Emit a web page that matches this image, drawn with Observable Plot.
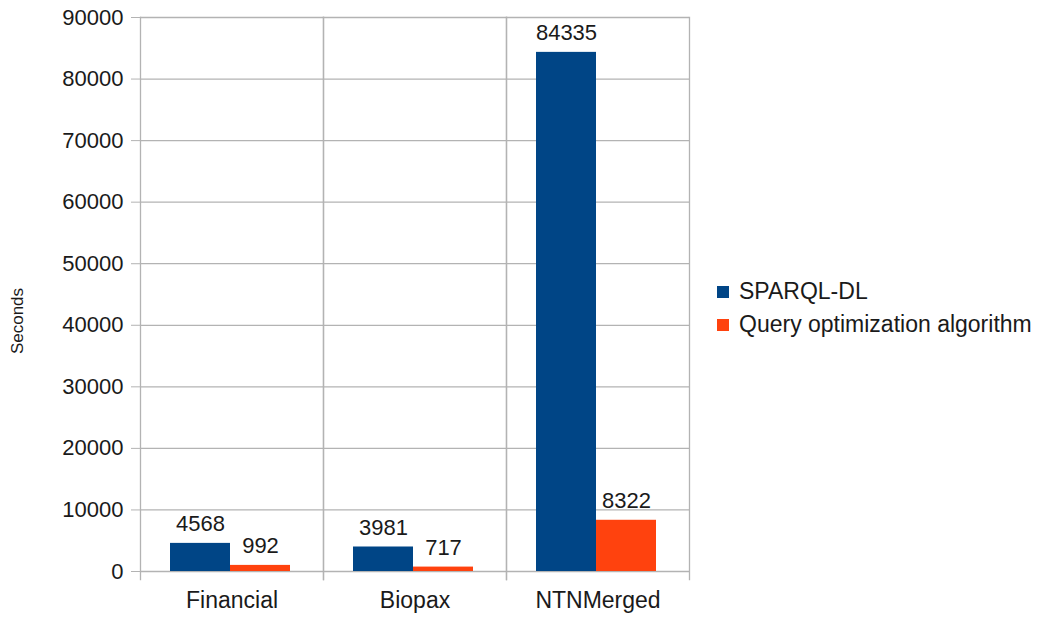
<!DOCTYPE html>
<html>
<head>
<meta charset="utf-8">
<script src="https://cdn.jsdelivr.net/npm/d3@7"></script>
<script src="https://cdn.jsdelivr.net/npm/@observablehq/plot@0.6"></script>
<style>
  html, body { margin: 0; padding: 0; background: #fff; }
  #wrap { position: relative; width: 1041px; height: 619px; font-family: "Liberation Sans", Arial, sans-serif; color: #1a1a1a; }
  #legend { position: absolute; left: 717px; top: 275px; font-size: 23px; line-height: 33px; }
  #legend .item { display: flex; align-items: center; white-space: nowrap; }
  #legend .sw { width: 12px; height: 12px; margin-right: 10px; }
  #ylab { position: absolute; left: 18px; top: 321px; transform: translate(-50%, -50%) rotate(-90deg); font-size: 17px; white-space: nowrap; }
</style>
</head>
<body>
<div id="wrap"></div>
<script>
const categories = ["Financial", "Biopax", "NTNMerged"];
const series = ["SPARQL-DL", "Query optimization algorithm"];
const sparqlValues = [4568, 3981, 84335];
const queryValues = [992, 717, 8322];
const yTicks = [0, 10000, 20000, 30000, 40000, 50000, 60000, 70000, 80000, 90000];
const colors = ["#004586", "#ff420e"];

const rows = [];
categories.forEach((c, i) => {
  rows.push({category: c, series: series[0], value: sparqlValues[i]});
  rows.push({category: c, series: series[1], value: queryValues[i]});
});

const grid = "#b3b3b3";
const chart = Plot.plot({
  width: 1041,
  height: 619,
  marginLeft: 140,
  marginRight: 352,
  marginTop: 17,
  marginBottom: 48,
  style: {fontFamily: "'Liberation Sans', Arial, sans-serif", fontSize: "22px", color: "#1a1a1a", background: "transparent"},
  fx: {domain: categories, padding: 0, label: null, axis: null},
  x: {domain: series, paddingInner: 0, paddingOuter: 0.51, align: 0.48, axis: null},
  y: {domain: [0, 90000], label: null},
  color: {domain: series, range: colors},
  marks: [
    Plot.gridY(yTicks, {stroke: grid, strokeOpacity: 1, strokeWidth: 1.3}),
    Plot.frame({anchor: "left", insetBottom: -8, stroke: grid, strokeWidth: 1.3}),
    Plot.frame({anchor: "right", insetBottom: -8, stroke: grid, strokeWidth: 1.3}),
    Plot.axisY({ticks: yTicks, tickSize: 9, tickPadding: 8, stroke: grid, label: null, tickFormat: d => String(d), fontSize: 22}),
    Plot.axisFx({anchor: "bottom", tickSize: 0, tickPadding: 20, label: null, fontSize: 23}),
    Plot.barY(rows, {fx: "category", x: "series", y: "value", fill: "series"}),
    Plot.text(rows, {fx: "category", x: "series", y: "value", text: d => String(d.value), dy: -19, fontSize: 22, fill: "#1a1a1a"})
  ]
});

const wrap = document.getElementById("wrap");
wrap.appendChild(chart);

const ylab = document.createElement("div");
ylab.id = "ylab";
ylab.textContent = "Seconds";
wrap.appendChild(ylab);

const legend = document.createElement("div");
legend.id = "legend";
series.forEach((s, i) => {
  const item = document.createElement("div");
  item.className = "item";
  const sw = document.createElement("span");
  sw.className = "sw";
  sw.style.background = colors[i];
  const t = document.createElement("span");
  t.textContent = s;
  item.appendChild(sw);
  item.appendChild(t);
  legend.appendChild(item);
});
wrap.appendChild(legend);
</script>
</body>
</html>
